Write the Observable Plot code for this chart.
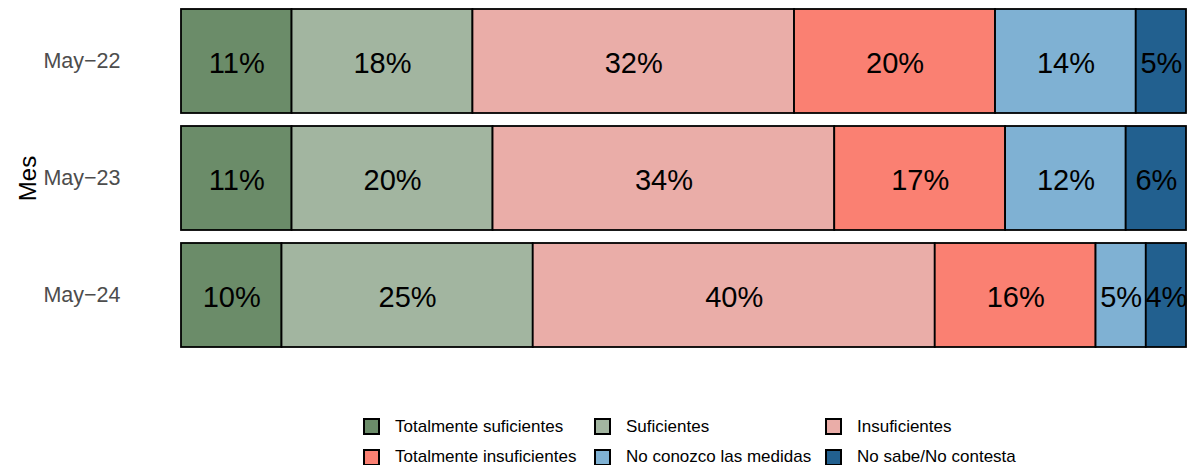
<!DOCTYPE html>
<html>
<head>
<meta charset="utf-8">
<script src="https://cdn.jsdelivr.net/npm/d3@7"></script>
<script src="https://cdn.jsdelivr.net/npm/@observablehq/plot@0.6"></script>
<style>
  body { margin: 0; background: #fff; font-family: "Liberation Sans", Arial, sans-serif; }
  #legend { display: grid; grid-template-columns: 231px 231px 231px; row-gap: 10.5px; margin-left: 363px; margin-top: 56.5px; }
  .item { display: flex; align-items: center; font-size: 17px; color: #000; height: 20px; white-space: nowrap; }
  .sw { width: 17px; height: 17px; border: 2px solid #000; box-sizing: border-box; margin-right: 15px; flex: none; }
</style>
</head>
<body>
<div id="chart"></div>
<div id="legend"></div>
<script>
const meses = ["May\u221222", "May\u221223", "May\u221224"];
const categorias = ["Totalmente suficientes", "Suficientes", "Insuficientes", "Totalmente insuficientes", "No conozco las medidas", "No sabe/No contesta"];
const colores = ["#6B8C69", "#A2B5A0", "#EAADA8", "#FA8072", "#7FB1D3", "#22608F"];
const valores22 = [11, 18, 32, 20, 14, 5];
const valores23 = [11, 20, 34, 17, 12, 6];
const valores24 = [10, 25, 40, 16, 5, 4];

const series = [valores22, valores23, valores24];
const data = [];
meses.forEach((m, i) => categorias.forEach((c, j) => data.push({mes: m, cat: c, value: series[i][j]})));

const chart = Plot.plot({
  width: 1189,
  height: 360,
  marginLeft: 181,
  marginRight: 3,
  marginTop: 8,
  marginBottom: 12,
  style: {fontFamily: "'Liberation Sans', Arial, sans-serif", background: "#fff"},
  x: {domain: [0, 100], axis: null},
  y: {domain: meses, paddingInner: 0.11, paddingOuter: 0, label: null, axis: null},
  color: {domain: categorias, range: colores},
  marks: [
    Plot.barX(data, Plot.stackX({x: "value", y: "mes", z: "cat", fill: "cat", stroke: "#000", strokeWidth: 1.8})),
    Plot.textX(data, Plot.stackX({x: "value", y: "mes", z: "cat", text: d => d.value + "%", fontSize: 29, fill: "#000", dy: 2})),
    Plot.axisY({tickSize: 0, tickPadding: 61, fontSize: 21.5, color: "#4D4D4D", label: "Mes", labelAnchor: "center", labelOffset: 163})
  ]
});
document.getElementById("chart").appendChild(chart);
chart.querySelectorAll("g[aria-label='y-axis label'] text, g[aria-label='y-axis label']").forEach(t => { t.setAttribute("font-size", 24); t.setAttribute("fill", "#000"); t.style.fill = "#000"; });

const leg = document.getElementById("legend");
categorias.forEach((c, j) => {
  const it = document.createElement("div");
  it.className = "item";
  const sw = document.createElement("span");
  sw.className = "sw";
  sw.style.background = colores[j];
  const tx = document.createElement("span");
  tx.textContent = c;
  it.appendChild(sw); it.appendChild(tx);
  leg.appendChild(it);
});
</script>
</body>
</html>
